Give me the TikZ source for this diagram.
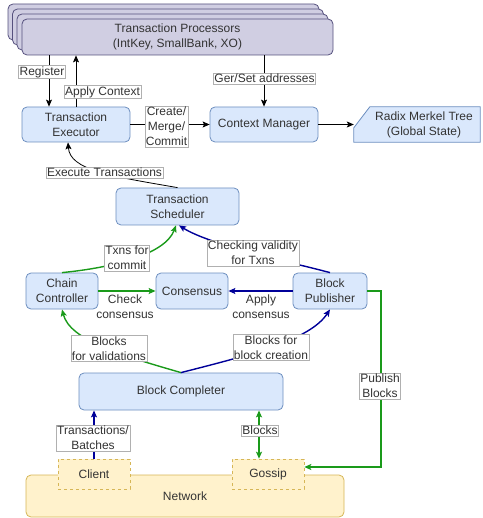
\documentclass[tikz,border=0pt]{standalone}
\usepackage{fontspec}
\setmainfont{Liberation Sans}
\usetikzlibrary{arrows.meta,calc}

\definecolor{bluefill}{HTML}{DAE8FC}
\definecolor{bluestroke}{HTML}{6C8EBF}
\definecolor{purfill}{HTML}{D0CEE2}
\definecolor{purstroke}{HTML}{56517E}
\definecolor{yelfill}{HTML}{FFF2CC}
\definecolor{yelstroke}{HTML}{D6B656}
\definecolor{flowgreen}{HTML}{1A9A1A}
\definecolor{flowblue}{HTML}{000099}
\definecolor{txt}{HTML}{333333}
\definecolor{lblgray}{HTML}{B0B0B0}

\begin{document}
\begin{tikzpicture}[x=1pt,y=-1pt,
  font=\fontsize{12}{15}\selectfont, text=txt,
  box/.style={draw=bluestroke, fill=bluefill, rounded corners=5pt, align=center,
    inner sep=0pt, line width=0.8pt},
  procbox/.style={draw=purstroke, fill=purfill, rounded corners=5pt, align=center,
    inner sep=0pt, line width=0.8pt, minimum width=311, minimum height=36},
  netbox/.style={draw=yelstroke, fill=yelfill, rounded corners=5pt, align=center,
    inner sep=0pt, line width=0.8pt},
  portbox/.style={draw=yelstroke, fill=yelfill, dashed, align=center,
    inner sep=0pt, line width=0.6pt, minimum width=72, minimum height=30},
  lbl/.style={draw=lblgray, fill=white, inner sep=1pt, align=center, line width=0.5pt},
  plainlbl/.style={inner sep=0pt, align=center},
  tip/.style={-{Stealth[length=7pt,width=6pt,inset=1.5pt]}},
  blk/.style={tip, draw=black, line width=0.8pt},
  grn/.style={tip, draw=flowgreen, line width=1.4pt},
  blu/.style={tip, draw=flowblue, line width=1.4pt},
]
\useasboundingbox (0,0) rectangle (482,518);

% stacked transaction processors
\node[procbox] (tp3) at (163.5,22) {};
\node[procbox] (tp2) at (168,27) {};
\node[procbox] (tp1) at (172.5,32) {};
\node[procbox] (tp) at (177.5,37) {Transaction Processors\\(IntKey, SmallBank, XO)};

% executor / context layer
\node[box, minimum width=108, minimum height=35] (te) at (76,124.5) {Transaction\\Executor};
\node[box, minimum width=108, minimum height=35] (cm) at (264,124.5) {Context Manager};
\node[minimum width=126, minimum height=35, inner sep=0pt] (radix) at (417,124.5) {};
\draw[draw=bluestroke, fill=bluefill, line width=0.8pt]
  ([yshift=-21pt]radix.north west) -- ([xshift=16pt]radix.north west)
  -- (radix.north east) -- (radix.south east) -- (radix.south west) -- cycle;
\node[plainlbl] (radixtxt) at ([xshift=7pt]radix.center) {Radix Merkel Tree\\(Global State)};

% validator core
\node[box, minimum width=123, minimum height=37] (ts) at (177.5,206.5) {Transaction\\Scheduler};
\node[box, minimum width=72, minimum height=36] (cc) at (62,291) {Chain\\Controller};
\node[box, minimum width=72, minimum height=36] (cons) at (192,291) {Consensus};
\node[box, minimum width=74, minimum height=36] (bp) at (330,291) {Block\\Publisher};
\node[box, minimum width=204, minimum height=37] (bc) at (181,391.5) {Block Completer};

% network
\node[netbox, minimum width=318, minimum height=42] (net) at (185,496) {Network};
\node[portbox] (client) at (94,474) {Client};
\node[portbox] (gossip) at (268,474) {Gossip};

% processor <-> executor / context manager
\draw[blk] (tp.south -| 49,0) -- (te.north -| 49,0);
\draw[blk] (te.north) -- (te.north |- tp.south);
\draw[blk] (cm.north |- tp.south) -- (cm.north);
\draw[blk] (te.east) -- (cm.west);
\draw[blk] (cm.east) -- (radix.west);
\draw[blk] (ts.north) .. controls (110,176) and (70,170) .. (te.south -| 68,0);

\node[lbl] (lregister) at (42,72) {Register};
\node[lbl] (lapply) at (102.5,92) {Apply Context};
\node[lbl] (lgetset) at (264.5,78.5) {Ger/Set addresses};
\node[lbl] (lcreate) at (166.5,126.5) {Create/\\Merge/\\Commit};
\node[lbl] (lexec) at (104.5,172.5) {Execute Transactions};

% scheduler inputs
\draw[grn] (cc.north) .. controls (110,268) and (165,255) .. ([xshift=-1.5pt]ts.south);
\draw[blu] (bp.north) .. controls (290,262) and (210,245) .. ([xshift=1.5pt]ts.south);
\node[lbl] (ltxns) at (127,258) {Txns for\\commit};
\node[lbl] (lcheckval) at (253,253) {Checking validity\\for Txns};

% consensus
\draw[grn] (cc.east) -- (cons.west);
\draw[blu] (bp.west) -- (cons.east);
\node[plainlbl] (lcheckcons) at (125,306.5) {Check\\consensus};
\node[plainlbl] (lapplycons) at (261,306.5) {Apply\\consensus};

% block completer outputs
\draw[grn] (bc.north) .. controls (120,355) and (70,340) .. (cc.south);
\draw[blu] (bc.north) .. controls (250,355) and (310,340) .. (bp.south);
\node[lbl] (lvalid) at (109,348.5) {Blocks\\for validations};
\node[lbl] (lcreation) at (271,347.5) {Blocks for\\block creation};

% network links
\coordinate (pbcorner) at (381,467);
\draw[blu] (client.north) -- (client.north |- bc.south);
\draw[grn, {Stealth[length=7pt,width=6pt,inset=1.5pt]}-{Stealth[length=7pt,width=6pt,inset=1.5pt]}]
  (gossip.north -| 259,0) -- (bc.south -| 259,0);
\draw[grn] (bp.east) -| (pbcorner) -- (pbcorner -| gossip.east);
\node[lbl] (ltx) at (93,438) {Transactions/\\Batches};
\node[lbl] (lblocks) at (260,430.5) {Blocks};
\node[lbl] (lpublish) at (380,386) {Publish\\Blocks};
\end{tikzpicture}
\end{document}
